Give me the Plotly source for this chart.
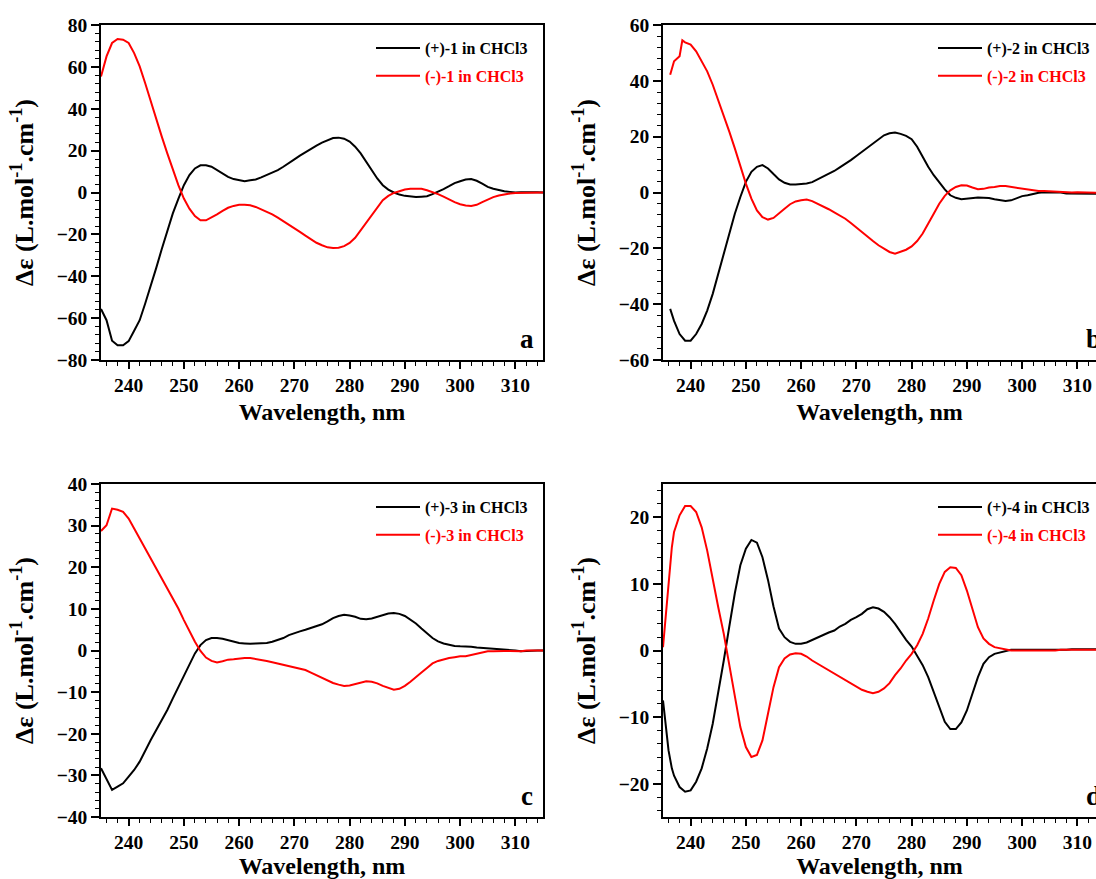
import plotly.graph_objects as go

# ---------------- data ----------------
# Panel a : compound 1
wl_a = list(range(235, 316))
plus_1 = [-55.6, -61, -70.8, -73, -73, -71, -66, -61, -53, -45, -36, -27, -18, -10, -3, 3.5,
          8.3, 11.5, 13, 13, 12.3, 10.7, 9, 7.5, 6.4, 5.8, 5.4, 5.8, 6.2, 7.2, 8.3, 9.4, 10.7,
          12.3, 13.9, 15.8, 17.6, 19.3, 20.9, 22.4, 23.8, 25, 26, 26.2, 25.7, 24.3, 21.9, 18.7,
          14.7, 10.7, 6.7, 3.5, 1.4, 0, -1, -1.6, -2, -2.2, -2, -1.8, -0.8, 0.3, 1.6, 3, 4.5,
          5.4, 6.2, 6.4, 5.6, 4.2, 2.7, 1.8, 1.1, 0.6, 0.3, 0, 0.1, 0.2, 0.1, 0.1, 0]
minus_1 = [55.4, 65, 71.4, 73.3, 73, 71.4, 66.6, 60.2, 52.2, 43.5, 34.7, 26.7, 18.7, 10.7, 3.5,
           -2.9, -7.7, -11.3, -13.3, -13.3, -12, -10.4, -8.8, -7.3, -6.4, -5.9, -5.8, -6.1, -6.9,
           -8, -9.1, -10.4, -12, -13.6, -15.3, -17.1, -18.8, -20.6, -22.4, -24, -25.2, -26.2,
           -26.5, -26.4, -25.6, -24.1, -21.6, -18, -14.4, -10.4, -6.9, -3.7, -1.6, -0.2, 0.6,
           1.4, 1.8, 1.8, 1.8, 1.1, 0.3, -0.8, -2, -3.4, -4.6, -5.6, -6.2, -6.4, -5.9, -4.6,
           -3.4, -2.2, -1.4, -0.8, -0.5, -0.2, -0.1, 0, 0.1, 0, 0]

# Panel b : compound 2
wl_b = [236.3, 237, 238, 238.5] + list(range(239, 315))
plus_2 = [-41.7, -46, -50.7, -52, -53.1, -53.1, -50.7, -47.1, -42.3, -36.3, -29.1, -21.9, -14.7,
          -7.6, -1.6, 3.8, 7.4, 9.2, 9.8, 8.6, 6.6, 4.7, 3.5, 2.9, 2.9, 3, 3.2, 3.7, 4.7, 5.6,
          6.6, 7.7, 9, 10.2, 11.6, 13.1, 14.6, 16.1, 17.6, 19.1, 20.5, 21.2, 21.5, 21, 20.3,
          19.1, 16.4, 12.8, 9.2, 6.2, 3.5, 1.1, -1, -1.9, -2.4, -2.2, -1.8, -1.8, -1.9, -2,
          -2.4, -2.8, -3, -2.8, -2, -1.3, -1, -0.5, -0.1, 0.1, 0.1, 0.1, 0, -0.4, -0.4, -0.4,
          -0.4, -0.5, -0.5, -0.5]
minus_2 = [42.2, 47, 48.8, 54.5, 53.8, 53, 50.6, 47, 43.4, 38.6, 33.2, 27.8, 21.8, 15.8, 9.2,
           3.2, -2.2, -6.4, -8.8, -9.7, -9.1, -7.6, -5.8, -4.2, -3.2, -2.8, -2.5, -3.1, -4,
           -4.9, -6, -7.1, -8.2, -9.4, -10.9, -12.6, -14.1, -15.9, -17.4, -18.9, -20.1, -21.3,
           -21.9, -21.3, -20.5, -19.3, -17.4, -14.7, -11.4, -7.6, -4, -1.2, 0.8, 2, 2.6, 2.5,
           1.8, 1.2, 1.3, 1.8, 2, 2.3, 2.3, 2, 1.6, 1.4, 1.1, 0.6, 0.5, 0.5, 0.4, 0.2, 0, 0, 0,
           0.1, 0.1, -0.1, -0.1, -0.1]

# Panel c : compound 3
wl_c = list(range(235, 316))
plus_3 = [-28.3, -31.1, -33.5, -32.7, -31.9, -30.3, -28.7, -26.7, -23.9, -21.5, -19.1, -16.7,
          -14.3, -11.5, -8.7, -5.9, -3.1, -0.7, 1.3, 2.5, 3, 3, 2.8, 2.5, 2.1, 1.8, 1.7, 1.6,
          1.7, 1.8, 1.8, 2.1, 2.5, 3, 3.7, 4.2, 4.6, 5, 5.4, 5.8, 6.3, 7, 7.8, 8.3, 8.6, 8.4,
          8.1, 7.6, 7.5, 7.7, 8.1, 8.6, 8.9, 9, 8.8, 8.3, 7.5, 6.5, 5.3, 4.1, 3, 2.2, 1.7, 1.4,
          1.1, 1, 1, 0.9, 0.7, 0.6, 0.6, 0.5, 0.4, 0.2, 0.2, 0, -0.2, -0.1, 0, 0, 0]
minus_3 = [28.7, 30.1, 34.1, 33.8, 33.3, 31.7, 29.3, 26.9, 24.5, 22.1, 19.7, 17.3, 14.9, 12.5,
           10.1, 7.3, 4.5, 2.1, -0.1, -1.7, -2.5, -2.9, -2.6, -2.2, -2.1, -1.9, -1.8, -1.8, -2,
           -2.2, -2.5, -2.8, -3.1, -3.5, -3.8, -4, -4.3, -4.7, -5.3, -5.9, -6.6, -7.1, -7.8,
           -8.2, -8.5, -8.4, -8.1, -7.7, -7.4, -7.5, -7.9, -8.5, -9, -9.4, -9.2, -8.5, -7.5,
           -6.3, -5.3, -4.2, -3.1, -2.5, -2.1, -1.8, -1.6, -1.4, -1.4, -1.1, -0.8, -0.5, -0.2,
           -0.2, -0.1, -0.1, -0.1, -0.2, -0.2, 0, 0, 0, 0]

# Panel d : compound 4
wl_d = [235, 236, 236.6] + list(range(237, 315))
plus_4 = [-7.5, -15, -17.7, -18.8, -20.5, -21.2, -21, -19.7, -17.7, -14.7, -11, -6.5, -1.5, 3.6,
          8.6, 12.8, 15.3, 16.6, 16.2, 14, 10.6, 6.6, 3.3, 2, 1.3, 1, 1, 1.2, 1.6, 2, 2.4, 2.7,
          3, 3.6, 4, 4.6, 5, 5.5, 6.2, 6.5, 6.3, 5.8, 5, 4, 2.8, 1.6, 0.6, -0.7, -2.2, -4, -6.2,
          -8.5, -10.7, -11.8, -11.8, -10.8, -9, -6.5, -4, -2, -1, -0.5, -0.3, 0, 0.1, 0.1, 0.1,
          0.1, 0, 0, 0, 0, 0.1, 0.1, 0.1, 0.2, 0.2, 0.2, 0.2, 0.2, 0.2]
minus_4 = [0.5, 10, 15.5, 17.8, 20.3, 21.7, 21.7, 20.8, 18.5, 15, 10.5, 6.5, 2.5, -2, -7, -11.5,
           -14.5, -16, -15.7, -13.5, -9.5, -5.5, -2.5, -1.2, -0.6, -0.4, -0.5, -0.9, -1.5, -2,
           -2.5, -2.9, -3.4, -3.9, -4.4, -4.9, -5.4, -5.9, -6.2, -6.4, -6.2, -5.7, -4.9, -3.7,
           -2.7, -1.5, -0.5, 0.8, 2.5, 4.8, 7.5, 10, 11.8, 12.5, 12.4, 11.3, 9, 6.3, 3.5, 1.8,
           1, 0.5, 0.3, 0.2, 0, 0, 0, -0.1, -0.1, -0.1, -0.1, 0, 0, 0.1, 0.1, 0.1, 0.1, 0.1,
           0.1, 0.1, 0.1]

compounds = ["1", "2", "3", "4"]
panel_letters = ["a", "b", "c", "d"]
y_ranges = [[-80, 80], [-60, 60], [-40, 40], [-25, 25]]
y_major = [20, 20, 10, 10]
y_minor = [4, 4, 2, 2]
x_ranges = [[235, 315], [235, 313.37], [235, 315], [235, 313.37]]
series = [(wl_a, plus_1, minus_1), (wl_b, plus_2, minus_2),
          (wl_c, plus_3, minus_3), (wl_d, plus_4, minus_4)]

# ---------------- layout geometry (pixels of a 1096 x 879 canvas) ----------------
W, H = 1096, 879
x_dom = [[101 / W, 543 / W], [663 / W, 1.0], [101 / W, 543 / W], [663 / W, 1.0]]
y_dom = [[1 - 360 / H, 1 - 25 / H], [1 - 360 / H, 1 - 25 / H],
         [1 - 817 / H, 1 - 484 / H], [1 - 817 / H, 1 - 484 / H]]

FONT = "Liberation Serif"
fig = go.Figure()
layout = dict(width=W, height=H, margin=dict(l=0, r=0, t=0, b=0, autoexpand=False),
              paper_bgcolor="white", plot_bgcolor="white", showlegend=True)
annotations = []

for i in range(4):
    sfx = "" if i == 0 else str(i + 1)
    wl, plus, minus = series[i]
    leg = "legend" if i == 0 else "legend" + str(i + 1)
    fig.add_trace(go.Scatter(x=wl, y=plus, mode="lines", line=dict(color="black", width=2),
                             name="(+)-%s in CHCl3" % compounds[i], xaxis="x" + sfx, yaxis="y" + sfx,
                             legend=leg, legendgroup="p%d" % i))
    fig.add_trace(go.Scatter(x=wl, y=minus, mode="lines", line=dict(color="#ff0000", width=2),
                             name="<span style='color:#ff0000'>(-)-%s in CHCl3</span>" % compounds[i],
                             xaxis="x" + sfx, yaxis="y" + sfx, legend=leg, legendgroup="m%d" % i))
    right_open = (i % 2 == 1)
    layout["xaxis" + sfx] = dict(
        domain=x_dom[i], range=x_ranges[i], anchor="y" + sfx,
        showline=True, linecolor="black", linewidth=1.5, mirror=True,
        ticks="outside", ticklen=7, tickwidth=1.5, tickcolor="black",
        dtick=10, tick0=240, showgrid=False, zeroline=False,
        minor=dict(dtick=2, ticks="outside", ticklen=4, tickwidth=1.2, tickcolor="black"),
        tickfont=dict(family=FONT, size=19.5, color="black", weight="bold"),
        title=dict(text="<b>Wavelength, nm</b>", font=dict(family=FONT, size=24, color="black"),
                   standoff=8),
    )
    layout["yaxis" + sfx] = dict(
        domain=y_dom[i], range=y_ranges[i], anchor="x" + sfx,
        showline=True, linecolor="black", linewidth=1.5, mirror=(not right_open),
        ticks="outside", ticklen=8, tickwidth=1.5, tickcolor="black",
        dtick=y_major[i], showgrid=False, zeroline=False,
        minor=dict(dtick=y_minor[i], ticks="outside", ticklen=4, tickwidth=1.2, tickcolor="black"),
        tickfont=dict(family=FONT, size=19.5, color="black", weight="bold"),
        title=dict(text="<b>\u0394\u03b5 (L.mol<sup>-1</sup>.cm<sup>-1</sup>)</b>",
                   font=dict(family=FONT, size=26, color="black"), standoff=16),
    )
    top_px = 25 if i < 2 else 484
    left_px = 101 if i % 2 == 0 else 663
    layout[leg] = dict(x=(left_px + 270) / W, y=1 - (top_px + 6) / H, xanchor="left", yanchor="top",
                       bgcolor="rgba(0,0,0,0)", borderwidth=0, traceorder="grouped",
                       tracegroupgap=4, itemwidth=44,
                       font=dict(family=FONT, size=16, color="black", weight="bold"))
    bottom_px = 360 if i < 2 else 817
    letter_x = 527 if i % 2 == 0 else 1093
    annotations.append(dict(text="<b>%s</b>" % panel_letters[i], xref="paper", yref="paper",
                            x=letter_x / W, y=1 - (bottom_px - 21) / H, xanchor="center",
                            yanchor="middle", showarrow=False,
                            font=dict(family=FONT, size=27, color="black")))

layout["annotations"] = annotations
fig.update_layout(**layout)
fig.write_html("out.html")
